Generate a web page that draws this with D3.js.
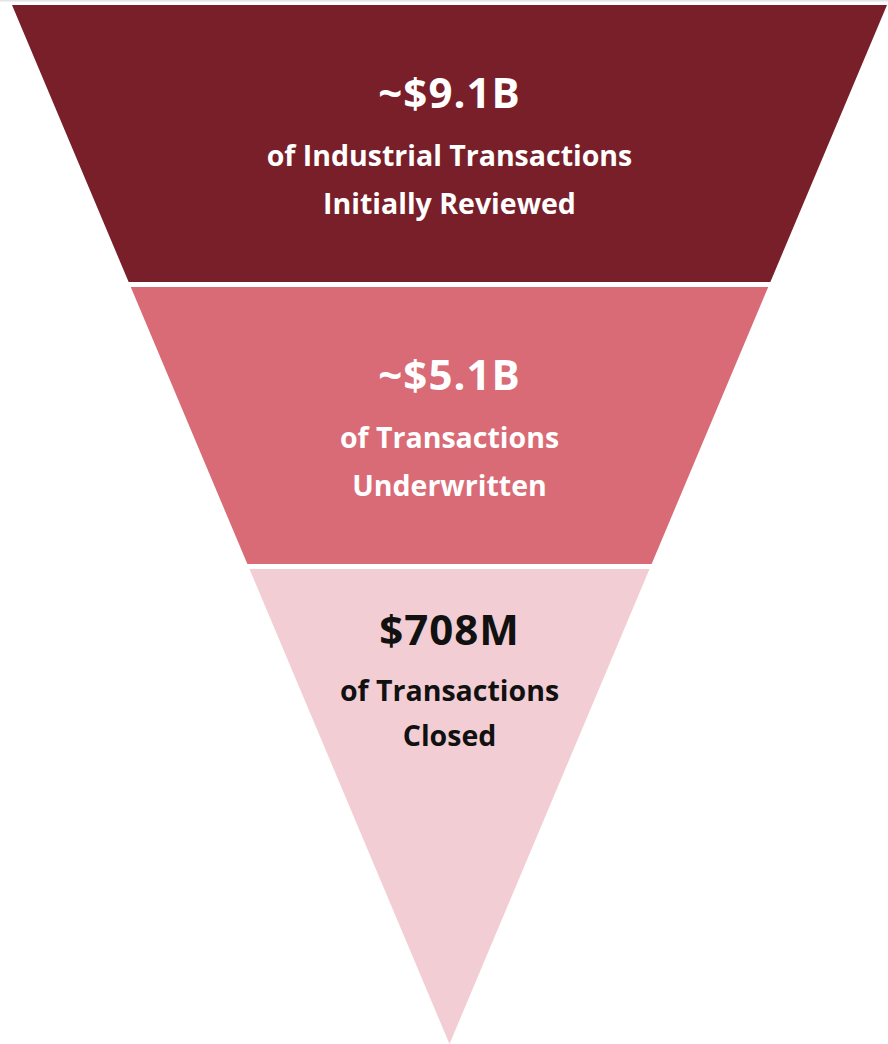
<!DOCTYPE html>
<html>
<head>
<meta charset="utf-8">
<script src="https://cdn.jsdelivr.net/npm/d3@7"></script>
<style>
  html, body { margin: 0; padding: 0; background: #ffffff; }
  svg { display: block; }
</style>
</head>
<body>
<svg id="chart" width="888" height="1044"></svg>
<script>
// ---- Data ----
const stages = ["Reviewed", "Underwritten", "Closed"];
const amounts = ["~$9.1B", "~$5.1B", "$708M"];
const descLine1 = ["of Industrial Transactions", "of Transactions", "of Transactions"];
const descLine2 = ["Initially Reviewed", "Underwritten", "Closed"];
const fills = ["#791f2a", "#d96b76", "#f2cdd3"];
const textColors = ["#ffffff", "#ffffff", "#111111"];

// ---- Layout ----
const W = 888, H = 1044;
const cx = 449.5;
const topY = 5, apexY = 1044;
const tierTop = [5, 287, 569];
const tierBottom = [282, 564, 1044];
const amountBase = [108, 390, 645];
const line1Base = [166, 448, 701];
const line2Base = [214, 496, 746];

const svg = d3.select("#chart");

svg.append("rect").attr("x", 0).attr("y", 0).attr("width", W).attr("height", 1.5).attr("fill", "#e4e4e4");

// half-width of the funnel as function of y
const halfW = d3.scaleLinear().domain([topY, apexY]).range([437.5, 0]);

const g = svg.append("g");
const tiers = g.selectAll("g.tier").data(stages).join("g").attr("class", "tier");

tiers.append("path")
  .attr("d", (d, i) => {
    const y0 = tierTop[i], y1 = tierBottom[i];
    const p = d3.path();
    p.moveTo(cx - halfW(y0), y0);
    p.lineTo(cx + halfW(y0), y0);
    p.lineTo(cx + halfW(y1), y1);
    p.lineTo(cx - halfW(y1), y1);
    p.closePath();
    return p.toString();
  })
  .attr("fill", (d, i) => fills[i]);

const font = "'Century Gothic', 'Open Sans', 'Noto Sans', sans-serif";

tiers.append("text")
  .attr("x", cx).attr("y", (d, i) => amountBase[i])
  .attr("text-anchor", "middle")
  .attr("font-family", font).attr("font-weight", 700)
  .attr("font-size", 42).attr("letter-spacing", 1)
  .attr("fill", (d, i) => textColors[i])
  .text((d, i) => amounts[i]);

tiers.append("text")
  .attr("x", cx).attr("y", (d, i) => line1Base[i])
  .attr("text-anchor", "middle")
  .attr("font-family", font).attr("font-weight", 700)
  .attr("font-size", 28.5)
  .attr("fill", (d, i) => textColors[i])
  .text((d, i) => descLine1[i]);

tiers.append("text")
  .attr("x", cx).attr("y", (d, i) => line2Base[i])
  .attr("text-anchor", "middle")
  .attr("font-family", font).attr("font-weight", 700)
  .attr("font-size", 28.5)
  .attr("fill", (d, i) => textColors[i])
  .text((d, i) => descLine2[i]);
</script>
</body>
</html>
